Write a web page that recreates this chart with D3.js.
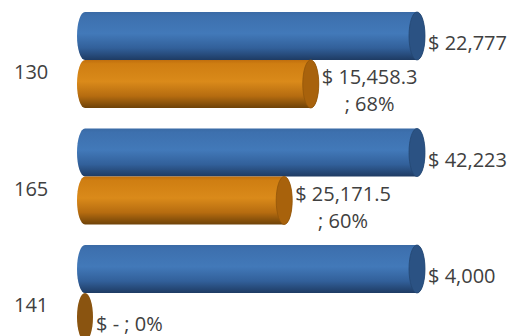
<!DOCTYPE html>
<html><head><meta charset="utf-8">
<script src="https://cdn.jsdelivr.net/npm/d3@7/dist/d3.min.js"></script>
<style>html,body{margin:0;padding:0;background:#fff;overflow:hidden}</style>
</head><body>
<svg id="c" width="513" height="336"></svg>
<script>
const categories = ["130", "165", "141"];
const totalAmounts = [22777, 42223, 4000];
const paidAmounts = [15458.3, 25171.5, 0];
const totalLabels = ["$ 22,777", "$ 42,223", "$ 4,000"];
const paidLabels = [["$ 15,458.3", "; 68%"], ["$ 25,171.5", "; 60%"], ["$ - ; 0%"]];
const totalPct = [1, 1, 1];
const paidPct = [0.68, 0.60, 0];

const svg = d3.select("#c");
const defs = svg.append("defs");
function grad(id, stops){
  const g = defs.append("linearGradient").attr("id", id).attr("x1",0).attr("x2",0).attr("y1",0).attr("y2",1);
  stops.forEach(s => g.append("stop").attr("offset", s[0]).attr("stop-color", s[1]));
}
grad("gBlue", [[0,"#3a6aa5"],[0.08,"#3d70ae"],[0.45,"#4279b9"],[0.75,"#32609a"],[1,"#1e3b63"]]);
grad("gOrange", [[0,"#c06f0e"],[0.08,"#cf7e12"],[0.45,"#da8a1a"],[0.75,"#b66c10"],[1,"#6e4208"]]);

const x = d3.scaleLinear().domain([0, 1]).range([85, 417]);
const y = d3.scaleBand().domain(categories).range([12, 341]).paddingInner(0.176).paddingOuter(0);
const ys = d3.scaleBand().domain(["total", "paid"]).range([0, y.bandwidth()]);
const rx = 8;

const series = [
  {key: "total", pct: totalPct, fill: "url(#gBlue)", cap: "#2b5283", zero: "#2b5283", labels: totalLabels.map(l => [l])},
  {key: "paid", pct: paidPct, fill: "url(#gOrange)", cap: "#a8620c", zero: "#8a5410", labels: paidLabels}
];

const font = "'Open Sans', sans-serif";
categories.forEach((cat, i) => {
  const gy = y(cat);
  svg.append("text").attr("x", 14).attr("y", gy + y.bandwidth()/2 + 12 + 7)
    .attr("font-family", font).attr("font-size", 20).attr("fill", "#404040").text(cat);
  series.forEach(s => {
    const top = gy + ys(s.key), h = ys.bandwidth(), bot = top + h, ry = h/2;
    const x0 = x(0), x1 = x(s.pct[i]);
    const p = `M${x0},${top} L${x1},${top} A${rx},${ry} 0 0 1 ${x1},${bot} L${x0},${bot} A${rx},${ry} 0 0 1 ${x0},${top} Z`;
    const zero = s.pct[i] === 0;
    svg.append("path").attr("d", p).attr("fill", zero ? s.zero : s.fill);
    svg.append("ellipse").attr("cx", x1).attr("cy", top + ry).attr("rx", rx).attr("ry", ry)
      .attr("fill", s.cap).attr("stroke", d3.color(s.cap).darker(0.4)).attr("stroke-width", 0.8)
      .attr("fill-opacity", zero ? 0 : 1).attr("stroke-opacity", zero ? 0 : 1);
    // label
    const lines = s.labels[i];
    const lh = 27;
    const cy = top + ry + 7;
    const g = svg.append("g");
    const texts = lines.map((l, k) => g.append("text")
      .attr("y", cy - (lines.length - 1) * lh / 2 + k * lh + 7)
      .attr("font-family", font).attr("font-size", 20).attr("fill", "#404040").text(l));
    const widths = texts.map(t => t.node().getComputedTextLength());
    const maxW = d3.max(widths);
    const left = x1 + rx + 3;
    texts.forEach((t, k) => t.attr("x", left + (maxW - widths[k]) / 2));
  });
});
</script>
</body></html>
